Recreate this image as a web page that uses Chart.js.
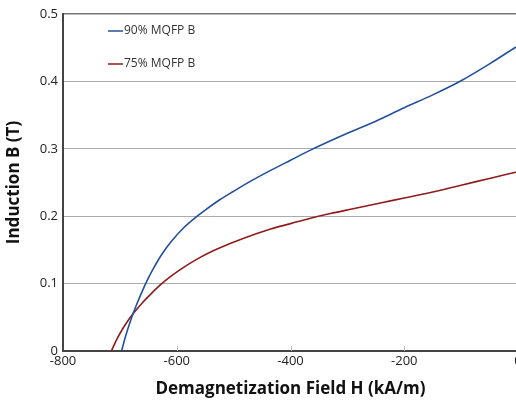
<!DOCTYPE html>
<html>
<head>
<meta charset="utf-8">
<script src="https://cdn.jsdelivr.net/npm/chart.js@4"></script>
<style>
  html, body { margin: 0; padding: 0; background: #fff; overflow: hidden; }
  #wrap { width: 540px; height: 403px; }
</style>
</head>
<body>
<div id="wrap"><canvas id="bhChart"></canvas></div>
<script>
// demagnetization curves, H in kA/m, B in T
var h90 = [-697, -690, -680, -670, -660, -650, -640, -625, -610, -590, -570, -550, -525, -500, -470, -435, -400, -365, -300, -250, -200, -150, -100, -50, 0];
var b90 = [0, 0.022, 0.048, 0.07, 0.09, 0.108, 0.124, 0.145, 0.162, 0.181, 0.196, 0.209, 0.224, 0.237, 0.252, 0.268, 0.283, 0.298, 0.323, 0.341, 0.361, 0.38, 0.401, 0.426, 0.453];

var h75 = [-715, -705, -695, -685, -675, -660, -645, -629, -610, -590, -565, -535, -505, -470, -435, -400, -365, -330, -290, -240, -200, -150, -100, -50, 0];
var b75 = [0, 0.018, 0.033, 0.046, 0.057, 0.072, 0.085, 0.098, 0.111, 0.123, 0.136, 0.149, 0.16, 0.171, 0.181, 0.189, 0.197, 0.204, 0.211, 0.22, 0.227, 0.236, 0.246, 0.256, 0.266];

var seriesLabels = ["90% MQFP B", "75% MQFP B"];
var xTicks = [-800, -600, -400, -200, 0];
var yTicks = [0, 0.1, 0.2, 0.3, 0.4, 0.5];

function toPoints(xs, ys) {
    var pts = [];
    for (var i = 0; i < xs.length; i++) {
        pts.push({x: xs[i], y: ys[i]});
    }
    return pts;
}

var FONT = "'Open Sans', 'Liberation Sans', sans-serif";

// legend drawn inside the plot, top left
var innerLegend = {
    id: 'innerLegend',
    afterDraw: function (chart) {
        var ctx = chart.ctx;
        var area = chart.chartArea;
        ctx.save();
        ctx.font = "12px " + FONT;
        ctx.textBaseline = 'middle';
        chart.data.datasets.forEach(function (ds, i) {
            var y = area.top + 17 + i * 33;
            var x = area.left + 45;
            ctx.strokeStyle = ds.borderColor;
            ctx.lineWidth = 1.5;
            ctx.beginPath();
            ctx.moveTo(x, y);
            ctx.lineTo(x + 15, y);
            ctx.stroke();
            ctx.fillStyle = '#333';
            ctx.fillText(ds.label, x + 16, y);
        });
        ctx.restore();
    }
};

// small tick marks pointing up into the plot
var innerTicks = {
    id: 'innerTicks',
    afterDraw: function (chart) {
        var ctx = chart.ctx;
        var xs = chart.scales.x;
        var bottom = chart.chartArea.bottom;
        ctx.save();
        ctx.strokeStyle = '#bbb';
        ctx.lineWidth = 1;
        xTicks.forEach(function (v) {
            if (v === -800 || v === 0) return;
            var px = Math.round(xs.getPixelForValue(v)) + 0.5;
            ctx.beginPath();
            ctx.moveTo(px, bottom);
            ctx.lineTo(px, bottom - 5);
            ctx.stroke();
        });
        ctx.restore();
    }
};

new Chart(document.getElementById("bhChart"), {
    type: 'line',
    data: {
        datasets: [{
            label: seriesLabels[0],
            data: toPoints(h90, b90),
            borderColor: '#23509a',
            borderWidth: 1.6,
            pointRadius: 0,
            cubicInterpolationMode: 'monotone',
            fill: false
        }, {
            label: seriesLabels[1],
            data: toPoints(h75, b75),
            borderColor: '#8e1c1c',
            borderWidth: 1.6,
            pointRadius: 0,
            cubicInterpolationMode: 'monotone',
            fill: false
        }]
    },
    plugins: [innerLegend, innerTicks],
    options: {
        responsive: true,
        maintainAspectRatio: false,
        animation: false,
        layout: {padding: {top: 14, right: 22, left: 0, bottom: 0}},
        plugins: {
            legend: {display: false},
            tooltip: {enabled: false}
        },
        scales: {
            x: {
                type: 'linear',
                min: -800,
                max: 0,
                afterBuildTicks: function (s) {
                    s.ticks = xTicks.map(function (v) { return {value: v}; });
                },
                afterFit: function (s) { s.height = 52; },
                ticks: {
                    color: '#222',
                    font: {family: FONT, size: 13},
                    padding: 2,
                    maxRotation: 0
                },
                grid: {display: true, drawOnChartArea: false, drawTicks: false},
                border: {color: '#444', width: 2},
                title: {
                    display: true,
                    text: 'Demagnetization Field H (kA/m)',
                    color: '#111',
                    font: {family: FONT, size: 17, weight: 'bold'},
                    padding: {top: 4}
                }
            },
            y: {
                min: 0,
                max: 0.5,
                afterBuildTicks: function (s) {
                    s.ticks = yTicks.map(function (v) { return {value: v}; });
                },
                afterFit: function (s) { s.width = 63; },
                ticks: {
                    color: '#222',
                    font: {family: FONT, size: 13},
                    padding: 5,
                    callback: function (v) { return String(Math.round(v * 10) / 10); }
                },
                grid: {
                    color: function (c) { return c.tick.value === 0.5 ? '#777' : '#aaa'; },
                    lineWidth: function (c) { return c.tick.value === 0.5 ? 1.5 : 1; },
                    drawTicks: false
                },
                border: {color: '#444', width: 2},
                title: {
                    display: true,
                    text: 'Induction B (T)',
                    color: '#111',
                    font: {family: FONT, size: 17, weight: 'bold'},
                    padding: {bottom: 4}
                }
            }
        }
    }
});
</script>
</body>
</html>
